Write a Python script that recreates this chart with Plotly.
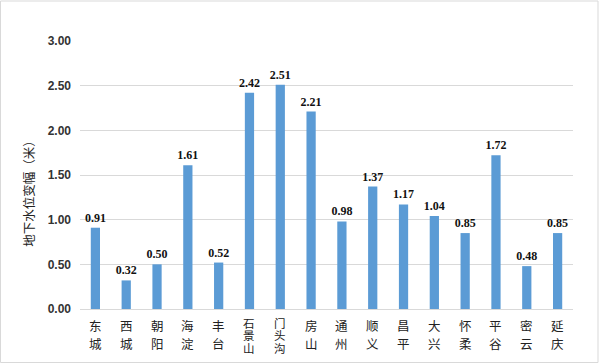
import plotly.graph_objects as go

districts = ["东城", "西城", "朝阳", "海淀", "丰台", "石景山", "门头沟", "房山",
             "通州", "顺义", "昌平", "大兴", "怀柔", "平谷", "密云", "延庆"]
values = [0.91, 0.32, 0.50, 1.61, 0.52, 2.42, 2.51, 2.21,
          0.98, 1.37, 1.17, 1.04, 0.85, 1.72, 0.48, 0.85]
y_ticks = [0.0, 0.5, 1.0, 1.5, 2.0, 2.5, 3.0]
y_title = "地下水位变幅（米）"

fig = go.Figure(go.Bar(
    x=districts,
    y=values,
    marker=dict(color="#5b9bd5", line=dict(width=0)),
    width=0.3,
    text=[f"{v:.2f}" for v in values],
    textposition="outside",
    constraintext="none",
    textfont=dict(family="Liberation Serif", size=12, color="#111111"),
    texttemplate="<b>%{text}</b>",
    cliponaxis=False,
))

# vertical (stacked) category labels, one character per annotation
annotations = []
for d in districts:
    n = len(d)
    first, step, fs = (13.7, 12.5, 11.5) if n == 3 else (16.3, 17.7, 12.5)
    for i, ch in enumerate(d):
        annotations.append(dict(
            x=d, xref="x", y=0, yref="paper",
            text=ch, showarrow=False,
            xanchor="center", yanchor="middle",
            yshift=-(first + i * step),
            font=dict(family="Noto Sans CJK SC", size=fs, color="#222222"),
        ))

# y-axis title
annotations.append(dict(
    x=-(80 - 29) / 493, xref="paper", y=(309.3 - 191) / 268, yref="paper",
    text=y_title, textangle=-90, showarrow=False,
    xanchor="center", yanchor="middle",
    font=dict(family="Noto Sans CJK SC", size=12.5, color="#222222"),
))

fig.update_layout(
    width=600, height=364,
    margin=dict(l=80, r=27, t=41, b=55),
    paper_bgcolor="white",
    plot_bgcolor="white",
    showlegend=False,
    annotations=annotations,
    xaxis=dict(
        tickmode="array", tickvals=districts, showticklabels=False,
        showgrid=False, showline=True, linecolor="#d9d9d9", linewidth=1,
        ticks="",
    ),
    yaxis=dict(
        range=[0, 3.0], tickvals=y_ticks,
        ticktext=[f"<b>{t:.2f}</b>" for t in y_ticks],
        tickfont=dict(family="Liberation Sans", size=12, color="#333333"),
        showgrid=True, gridcolor="#d9d9d9", gridwidth=1,
        zeroline=False, showline=False, ticks="", ticklabelstandoff=8,
    ),
    shapes=[dict(type="rect", xref="paper", yref="paper",
                 x0=-79.5/493, x1=1 + 25/493, y0=-53.5/268, y1=1 + 40/268,
                 line=dict(color="#d9d9d9", width=1), fillcolor="rgba(0,0,0,0)")],
)

fig.write_html("out.html", config={"displayModeBar": False},
               post_script="document.body.style.margin='0';document.body.style.overflow='hidden';")
